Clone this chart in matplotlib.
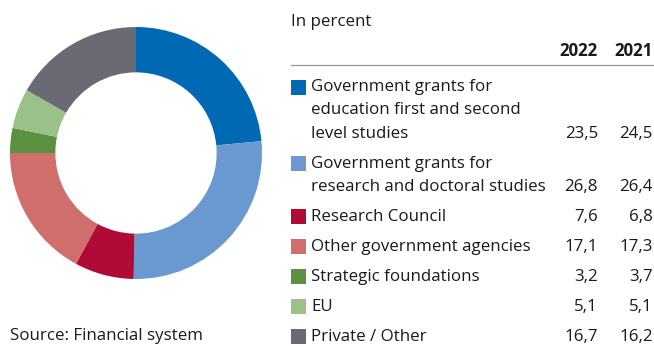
import matplotlib.pyplot as plt
from matplotlib.patches import Rectangle

plt.rcParams['font.family'] = ['Open Sans', 'DejaVu Sans']

# Funding sources, in percent
labels = [
    "Government grants for\neducation first and second\nlevel studies",
    "Government grants for\nresearch and doctoral studies",
    "Research Council",
    "Other government agencies",
    "Strategic foundations",
    "EU",
    "Private / Other",
]
values_2022 = [23.5, 26.8, 7.6, 17.1, 3.2, 5.1, 16.7]
values_2021 = [24.5, 26.4, 6.8, 17.3, 3.7, 5.1, 16.2]
years = ["2022", "2021"]
colors = ["#0069b4", "#6a98d0", "#b00a36", "#cf6e6a", "#5a9240", "#9cc08a", "#6a6a74"]

W, H = 654, 347
TXT = "#1a1a1a"
FS = 12.2


def fx(x):
    return x / W


def fy(y):
    return 1 - y / H


def fmt(v):
    return "{:.1f}".format(v).replace(".", ",")


fig = plt.figure(figsize=(W / 100, H / 100), dpi=100)

# Donut chart
cx, cy, r = 136, 153, 126
ax = fig.add_axes([fx(cx - r), fy(cy + r), 2 * r / W, 2 * r / H])
ax.pie(values_2022, colors=colors, startangle=90, counterclock=False,
       wedgeprops=dict(width=0.36, linewidth=0))
ax.set_aspect("equal")
ax.set_xlim(-1, 1)
ax.set_ylim(-1, 1)
ax.axis("off")

fig.text(fx(10), fy(336), "Source: Financial system", fontsize=FS,
         color=TXT, va="center", ha="left")

# Table
fig.text(fx(291), fy(22), "In percent", fontsize=FS, color=TXT, va="center")
col_x = [598, 653]
for x, yr in zip(col_x, years):
    fig.text(fx(x), fy(51), yr, fontsize=FS, fontweight="bold", color=TXT,
             ha="right", va="center")
fig.add_artist(plt.Line2D([fx(291), fx(653)], [fy(64.5), fy(64.5)],
                          color="#9a9a9a", linewidth=0.9))

y = 87
line_gap = 23.3
for label, v22, v21, c in zip(labels, values_2022, values_2021, colors):
    fig.add_artist(Rectangle((fx(291), fy(y + 7.5)), 15 / W, 15 / H,
                             facecolor=c, edgecolor="none"))
    lines = label.split("\n")
    for k, line in enumerate(lines):
        fig.text(fx(311), fy(y + k * line_gap), line, fontsize=FS, color=TXT,
                 va="center", ha="left")
    last = y + (len(lines) - 1) * line_gap
    fig.text(fx(col_x[0]), fy(last), fmt(v22), fontsize=FS, color=TXT,
             ha="right", va="center")
    fig.text(fx(col_x[1]), fy(last), fmt(v21), fontsize=FS, color=TXT,
             ha="right", va="center")
    y = last + 30

fig.savefig("out.png", dpi=100)
